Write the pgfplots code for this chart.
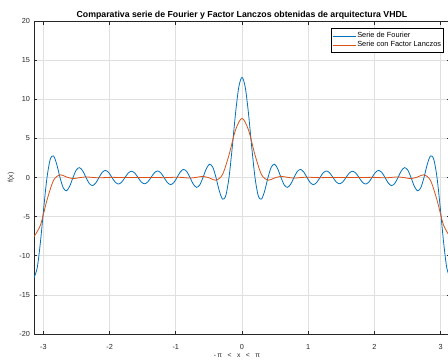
\documentclass[border=0pt]{standalone}
\usepackage{fontspec}
\setmainfont{Liberation Sans}
\usepackage{pgfplots}
\pgfplotsset{compat=1.18}
\usepackage{pgfplotstable}
\definecolor{mblue}{rgb}{0,0.447,0.741}
\definecolor{morange}{rgb}{0.85,0.325,0.098}
\definecolor{axgray}{rgb}{0.15,0.15,0.15}
\definecolor{gridgray}{rgb}{0.88,0.88,0.88}

\pgfplotstableread{
x y
-3.1416 -12.8
-3.0925 -11.529
-3.0434 -8.162
-2.9943 -3.855
-2.9452 0
-2.8962 2.328
-2.8471 2.756
-2.7980 1.679
-2.7489 0
-2.6998 -1.323
-2.6507 -1.697
-2.6016 -1.100
-2.5525 0
-2.5035 0.950
-2.4544 1.261
-2.4053 0.842
-2.3562 0
-2.3071 -0.763
-2.2580 -1.035
-2.2089 -0.704
-2.1598 0
-2.1108 0.660
-2.0617 0.907
-2.0126 0.626
-1.9635 0
-1.9144 -0.601
-1.8653 -0.836
-1.8162 -0.583
-1.7671 0
-1.7181 0.572
-1.6690 0.804
-1.6199 0.566
-1.5708 0
-1.5217 -0.566
-1.4726 -0.804
-1.4235 -0.572
-1.3744 0
-1.3254 0.583
-1.2763 0.836
-1.2272 0.601
-1.1781 0
-1.1290 -0.626
-1.0799 -0.907
-1.0308 -0.660
-0.9817 0
-0.9327 0.704
-0.8836 1.035
-0.8345 0.763
-0.7854 0
-0.7363 -0.842
-0.6872 -1.261
-0.6381 -0.950
-0.5890 0
-0.5400 1.100
-0.4909 1.697
-0.4418 1.323
-0.3927 0
-0.3436 -1.679
-0.2945 -2.756
-0.2454 -2.328
-0.1963 0
-0.1473 3.855
-0.0982 8.162
-0.0491 11.529
0 12.8
0.0491 11.529
0.0982 8.162
0.1473 3.855
0.1963 0
0.2454 -2.328
0.2945 -2.756
0.3436 -1.679
0.3927 0
0.4418 1.323
0.4909 1.697
0.5400 1.100
0.5890 0
0.6381 -0.950
0.6872 -1.261
0.7363 -0.842
0.7854 0
0.8345 0.763
0.8836 1.035
0.9327 0.704
0.9817 0
1.0308 -0.660
1.0799 -0.907
1.1290 -0.626
1.1781 0
1.2272 0.601
1.2763 0.836
1.3254 0.583
1.3744 0
1.4235 -0.572
1.4726 -0.804
1.5217 -0.566
1.5708 0
1.6199 0.566
1.6690 0.804
1.7181 0.572
1.7671 0
1.8162 -0.583
1.8653 -0.836
1.9144 -0.601
1.9635 0
2.0126 0.626
2.0617 0.907
2.1108 0.660
2.1598 0
2.2089 -0.704
2.2580 -1.035
2.3071 -0.763
2.3562 0
2.4053 0.842
2.4544 1.261
2.5035 0.950
2.5525 0
2.6016 -1.100
2.6507 -1.697
2.6998 -1.323
2.7489 0
2.7980 1.679
2.8471 2.756
2.8962 2.328
2.9452 0
2.9943 -3.855
3.0434 -8.162
3.0925 -11.529
3.1416 -12.8
}\fourier

\pgfplotstableread{
x y
-3.1416 -7.554
-3.0434 -6.069
-2.9452 -2.881
-2.8471 -0.377
-2.7489 0.352
-2.6507 0.061
-2.5525 -0.141
-2.4544 -0.021
-2.3562 0.073
-2.2580 0.010
-2.1598 -0.041
-2.0617 -0.006
-1.9635 0.023
-1.8653 0.004
-1.7671 -0.010
-1.6690 -0.003
-1.5708 0
-1.4726 0.003
-1.3744 0.010
-1.2763 -0.004
-1.1781 -0.023
-1.0799 0.006
-0.9817 0.041
-0.8836 -0.010
-0.7854 -0.073
-0.6872 0.021
-0.5890 0.141
-0.4909 -0.061
-0.3927 -0.352
-0.2945 0.377
-0.1963 2.881
-0.0982 6.069
0 7.554
0.0982 6.069
0.1963 2.881
0.2945 0.377
0.3927 -0.352
0.4909 -0.061
0.5890 0.141
0.6872 0.021
0.7854 -0.073
0.8836 -0.010
0.9817 0.041
1.0799 0.006
1.1781 -0.023
1.2763 -0.004
1.3744 0.010
1.4726 0.003
1.5708 0
1.6690 -0.003
1.7671 -0.010
1.8653 0.004
1.9635 0.023
2.0617 -0.006
2.1598 -0.041
2.2580 0.010
2.3562 0.073
2.4544 -0.021
2.5525 -0.141
2.6507 0.061
2.7489 0.352
2.8471 -0.377
2.9452 -2.881
3.0434 -6.069
3.1416 -7.554
}\lanczos

\begin{document}
\begin{tikzpicture}
\begin{axis}[
  scale only axis, width=416pt, height=313pt,
  xmin=-3.1416, xmax=3.1416, ymin=-20, ymax=20,
  xtick={-3,-2,-1,0,1,2,3}, ytick={-20,-15,-10,-5,0,5,10,15,20},
  tick align=inside, major tick length=3.5pt,
  grid=major, grid style={gridgray, line width=0.6pt},
  axis line style={axgray, line width=0.6pt},
  tick style={axgray, line width=0.6pt},
  ticklabel style={font=\fontsize{7.3}{8}\selectfont, text=axgray},
  xticklabel style={yshift=-6.5pt},
  yticklabel style={xshift=-0.5pt},
  /pgf/number format/assume math mode=true,
  title={\fontsize{8.75}{10}\selectfont\bfseries Comparativa serie de Fourier y Factor Lanczos obtenidas de arquitectura VHDL},
  title style={inner sep=2pt, yshift=-7pt},
  xlabel={\fontsize{6.8}{7.5}\selectfont -\,π\hspace{5.5pt}<\hspace{5.5pt}x\hspace{5.5pt}<\hspace{5.5pt}π},
  ylabel={\fontsize{7}{8}\selectfont f(x)},
  xlabel style={text=axgray, at={(axis description cs:0.5,0)}, anchor=center, yshift=-22pt, xshift=-5pt},
  ylabel style={text=axgray, at={(axis description cs:0,0.5)}, anchor=center, yshift=23pt},
  legend style={at={(axis description cs:1,1)}, anchor=north east,
    xshift=-6pt, yshift=-7pt,
    font=\fontsize{7.4}{8}\selectfont, draw=black, line width=0.6pt,
    inner xsep=1.5pt, inner ysep=3pt, row sep=0pt,
    nodes={inner sep=1pt, text height=5.4pt, text depth=1.8pt}},
  legend cell align=left,
  legend image code/.code={\draw[#1, line width=0.8pt] (0pt,0pt) -- (23pt,0pt);},
]
\addplot[mblue, line width=0.8pt, smooth] table[x=x,y=y] {\fourier};
\addlegendentry{Serie de Fourier}
\addplot[morange, line width=0.8pt, smooth] table[x=x,y=y] {\lanczos};
\addlegendentry{Serie con Factor Lanczos}
\coordinate (bl) at (rel axis cs:0,0);
\coordinate (tr) at (rel axis cs:1,1);
\end{axis}
\pgfresetboundingbox
\path ([xshift=-34pt,yshift=-27pt]bl) rectangle ([xshift=-2pt,yshift=21pt]tr);
\end{tikzpicture}
\end{document}
